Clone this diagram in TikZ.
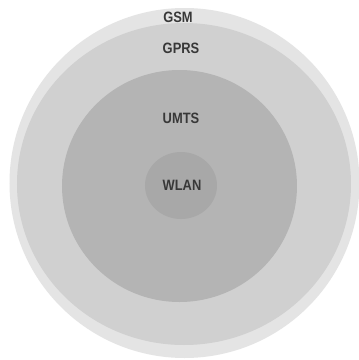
\documentclass[tikz,border=0pt]{standalone}
\usepackage{fontspec}
\setmainfont{Liberation Sans}
\begin{document}
\begin{tikzpicture}[x=1pt,y=-1pt,
  ring/.style={draw=none},
  lbl/.style={font=\bfseries\fontsize{15}{15}\selectfont, text=black!78, inner sep=0pt, xscale=0.86}]
\useasboundingbox (0,0) rectangle (359,360);
\fill[white] (0,0) rectangle (359,360);
\fill[ring, fill={rgb,255:red,228;green,228;blue,228}] (184.5,183) ellipse [x radius=175, y radius=175];
\fill[ring, fill={rgb,255:red,208;green,208;blue,208}] (184,184) ellipse [x radius=167, y radius=161];
\fill[ring, fill={rgb,255:red,180;green,180;blue,180}] (179.5,186) ellipse [x radius=117.5, y radius=116];
\fill[ring, fill={rgb,255:red,168;green,168;blue,168}] (181,185.5) ellipse [x radius=36, y radius=33.5];
\node[lbl] (gsm) at (178,17.5) {GSM};
\node[lbl] (gprs) at (181,48.5) {GPRS};
\node[lbl] (umts) at (181,118) {UMTS};
\node[lbl] (wlan) at (182,185.5) {WLAN};
\end{tikzpicture}
\end{document}
